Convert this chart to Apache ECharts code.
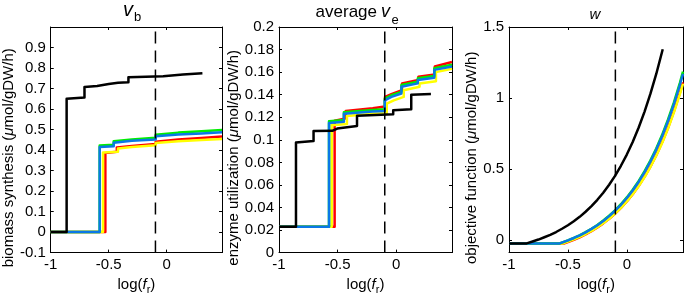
<!DOCTYPE html>
<html>
<head>
<meta charset="utf-8">
<script src="https://cdn.jsdelivr.net/npm/echarts@6/dist/echarts.min.js"></script>
<style>html,body{margin:0;padding:0;background:#fff;}#c{width:686px;height:300px;}</style>
</head>
<body>
<div id="c"></div>
<script>
// ---------- data ----------
const xTicks = [-1, -0.5, 0];
const xRange = [-1, 0.477];
const fRef = -0.097; // dashed reference line, log(f_r)

// panel 1 : v_b  (biomass synthesis)
const vbTicks = [-0.1, 0, 0.1, 0.2, 0.3, 0.4, 0.5, 0.6, 0.7, 0.8, 0.9];
const vbRange = [-0.1, 1.0];
const vbBlack  = [[-1,0],[-0.863,0],[-0.863,0.650],[-0.709,0.656],[-0.709,0.708],[-0.6,0.712],[-0.5,0.722],[-0.42,0.728],[-0.33,0.731],[-0.33,0.755],[-0.03,0.760],[-0.03,0.766],[0.14,0.768],[0.14,0.774],[0.308,0.774]];
const vbRed    = [[-1,0],[-0.529,0],[-0.529,0.386],[-0.43,0.392],[-0.43,0.412],[-0.3,0.420],[-0.095,0.430],[-0.095,0.441],[0.1,0.451],[0.3,0.459],[0.477,0.466]];
const vbYellow = [[-1,0],[-0.549,0],[-0.549,0.388],[-0.42,0.392],[-0.42,0.408],[-0.3,0.415],[-0.095,0.424],[-0.095,0.434],[0.1,0.443],[0.3,0.449],[0.477,0.454]];
const vbGreen  = [[-1,0],[-0.578,0],[-0.578,0.422],[-0.457,0.426],[-0.457,0.443],[-0.3,0.452],[-0.095,0.460],[-0.095,0.475],[0.1,0.485],[0.3,0.492],[0.477,0.498]];
const vbBlue   = [[-1,0],[-0.578,0],[-0.578,0.415],[-0.457,0.418],[-0.457,0.436],[-0.3,0.445],[-0.095,0.452],[-0.095,0.467],[0.1,0.476],[0.3,0.481],[0.477,0.487]];

// panel 2 : average v_e (enzyme utilization)
const veTicks = [0, 0.02, 0.04, 0.06, 0.08, 0.1, 0.12, 0.14, 0.16, 0.18, 0.2];
const veRange = [0, 0.2];
const veBlack  = [[-1,0.023],[-0.855,0.023],[-0.855,0.0977],[-0.705,0.099],[-0.705,0.1077],[-0.545,0.108],[-0.545,0.109],[-0.503,0.110],[-0.503,0.111],[-0.334,0.1123],[-0.334,0.1214],[-0.025,0.1226],[-0.025,0.1263],[0.129,0.127],[0.129,0.140],[0.297,0.1405]];
const veRed    = [[-1,0.023],[-0.525,0.023],[-0.525,0.117],[-0.43,0.119],[-0.43,0.1255],[-0.2,0.128],[-0.095,0.1295],[-0.095,0.138],[-0.03,0.141],[-0.03,0.142],[0.05,0.144],[0.05,0.150],[0.19,0.153],[0.19,0.156],[0.33,0.158],[0.33,0.165],[0.477,0.169]];
const veYellow = [[-1,0.023],[-0.55,0.023],[-0.55,0.113],[-0.42,0.114],[-0.42,0.121],[-0.2,0.123],[-0.08,0.1235],[-0.08,0.132],[-0.02,0.135],[-0.02,0.136],[0.065,0.138],[0.065,0.144],[0.2,0.147],[0.2,0.150],[0.34,0.152],[0.34,0.160],[0.477,0.163]];
const veGreen  = [[-1,0.023],[-0.573,0.023],[-0.573,0.1165],[-0.446,0.1175],[-0.446,0.1245],[-0.2,0.1265],[-0.097,0.127],[-0.097,0.1365],[-0.04,0.1395],[-0.04,0.1405],[0.045,0.1425],[0.045,0.1485],[0.185,0.1515],[0.185,0.1545],[0.326,0.1565],[0.326,0.1635],[0.477,0.1665]];
const veBlue   = [[-1,0.023],[-0.573,0.023],[-0.573,0.115],[-0.446,0.116],[-0.446,0.123],[-0.2,0.125],[-0.097,0.1255],[-0.097,0.135],[-0.04,0.138],[-0.04,0.139],[0.045,0.141],[0.045,0.147],[0.185,0.150],[0.185,0.153],[0.326,0.155],[0.326,0.162],[0.477,0.165]];

// panel 3 : w (objective function)
const wTicks = [0, 0.5, 1, 1.5];
const wRange = [-0.09, 1.5];
const wBlack  = [[-1,-0.025],[-0.85,-0.025],[-0.8,-0.012],[-0.75,0.002],[-0.7,0.018],[-0.65,0.035],[-0.6,0.055],[-0.55,0.078],[-0.5,0.103],[-0.45,0.131],[-0.4,0.162],[-0.35,0.198],[-0.3,0.238],[-0.25,0.282],[-0.2,0.332],[-0.15,0.388],[-0.1,0.451],[-0.05,0.522],[0,0.601],[0.05,0.690],[0.1,0.790],[0.15,0.902],[0.2,1.028],[0.25,1.169],[0.305,1.343]];
const wRed    = [[-1,-0.025],[-0.53,-0.025],[-0.5,-0.016],[-0.45,0.000],[-0.4,0.018],[-0.35,0.039],[-0.3,0.061],[-0.25,0.087],[-0.2,0.116],[-0.15,0.148],[-0.1,0.184],[-0.05,0.225],[0,0.271],[0.05,0.322],[0.1,0.379],[0.15,0.444],[0.2,0.516],[0.25,0.597],[0.3,0.688],[0.35,0.790],[0.4,0.905],[0.45,1.034],[0.477,1.110]];
const wYellow = [[-1,-0.025],[-0.54,-0.025],[-0.5,-0.013],[-0.45,0.003],[-0.4,0.021],[-0.35,0.041],[-0.3,0.063],[-0.25,0.089],[-0.2,0.117],[-0.15,0.149],[-0.1,0.185],[-0.05,0.225],[0,0.270],[0.05,0.321],[0.1,0.378],[0.15,0.441],[0.2,0.513],[0.25,0.593],[0.3,0.683],[0.35,0.784],[0.4,0.898],[0.45,1.025],[0.477,1.100]];
const wGreen  = [[-1,-0.025],[-0.57,-0.025],[-0.5,-0.004],[-0.45,0.013],[-0.4,0.032],[-0.35,0.054],[-0.3,0.078],[-0.25,0.105],[-0.2,0.136],[-0.15,0.170],[-0.1,0.208],[-0.05,0.251],[0,0.299],[0.05,0.353],[0.1,0.414],[0.15,0.482],[0.2,0.558],[0.25,0.644],[0.3,0.740],[0.35,0.848],[0.4,0.969],[0.45,1.105],[0.477,1.186]];
const wBlue   = [[-1,-0.025],[-0.57,-0.025],[-0.5,-0.004],[-0.45,0.013],[-0.4,0.032],[-0.35,0.053],[-0.3,0.077],[-0.25,0.103],[-0.2,0.133],[-0.15,0.167],[-0.1,0.205],[-0.05,0.247],[0,0.295],[0.05,0.348],[0.1,0.408],[0.15,0.475],[0.2,0.551],[0.25,0.636],[0.3,0.730],[0.35,0.837],[0.4,0.957],[0.45,1.091],[0.477,1.170]];

// ---------- styling ----------
const FONT = '"Liberation Sans", Arial, Helvetica, sans-serif';
const COLORS = {black:'#000000', red:'#ff0000', yellow:'#ffff00', green:'#00ee00', blue:'#0a78e6'};
const LW = 2.5;

const grids = [
  {left:50,  top:27, width:172, height:233},
  {left:279, top:27, width:173, height:233},
  {left:509, top:27, width:174, height:233}
];

function fmt(v){ return String(Math.round(v*1000)/1000); }

const yNames = [
  '{t|biomass synthesis (}{i|μ}{t|mol/gDW/h)}',
  '{t|enzyme utilization (}{i|μ}{t|mol/gDW/h)}',
  '{t|objective function (}{i|μ}{t|mol/gDW/h)}'
];
const yGaps = [32, 33, 23];
const yTickSets = [vbTicks, veTicks, wTicks];
const yRanges = [vbRange, veRange, wRange];

const nameRich = {
  t:{fontFamily:FONT, fontSize:15, color:'#000'},
  i:{fontFamily:FONT, fontSize:15, fontStyle:'italic', color:'#000'},
  s:{fontFamily:FONT, fontSize:11, color:'#000', padding:[9,0,0,0]}
};

const xAxes = [], yAxes = [];
grids.forEach((g, i) => {
  const line = {show:true, onZero:false, lineStyle:{color:'#000', width:1}};
  const tick = {show:true, inside:true, length:3, customValues:xTicks, lineStyle:{color:'#000', width:1}};
  xAxes.push({
    gridIndex:i, type:'value', min:xRange[0], max:xRange[1], position:'bottom',
    axisLine:line, axisTick:tick, splitLine:{show:false},
    axisLabel:{customValues:xTicks, formatter:fmt, color:'#000', fontFamily:FONT, fontSize:15, margin:5},
    name:'{t|log(}{i|f}{s|r}{t|)}', nameLocation:'middle', nameGap:20,
    nameTextStyle:{rich:nameRich}
  });
  xAxes.push({
    gridIndex:i, type:'value', min:xRange[0], max:xRange[1], position:'top',
    axisLine:line, axisTick:tick, splitLine:{show:false}, axisLabel:{show:false}
  });
  const ytick = {show:true, inside:true, length:3, customValues:yTickSets[i], lineStyle:{color:'#000', width:1}};
  yAxes.push({
    gridIndex:i, type:'value', min:yRanges[i][0], max:yRanges[i][1], position:'left',
    axisLine:line, axisTick:ytick, splitLine:{show:false},
    axisLabel:{customValues:yTickSets[i], formatter:fmt, color:'#000', fontFamily:FONT, fontSize:15, margin:5},
    name:yNames[i], nameLocation:'middle', nameRotate:90, nameGap:yGaps[i],
    nameTextStyle:{rich:nameRich, padding:[0,36,0,0]}
  });
  yAxes.push({
    gridIndex:i, type:'value', min:yRanges[i][0], max:yRanges[i][1], position:'right',
    axisLine:line, axisTick:ytick, splitLine:{show:false}, axisLabel:{show:false}
  });
});

const panels = [
  {red:vbRed, yellow:vbYellow, green:vbGreen, blue:vbBlue, black:vbBlack, range:vbRange},
  {red:veRed, yellow:veYellow, green:veGreen, blue:veBlue, black:veBlack, range:veRange},
  {red:wRed,  yellow:wYellow,  green:wGreen,  blue:wBlue,  black:wBlack,  range:wRange}
];

const series = [];
panels.forEach((p, i) => {
  ['red','yellow','green','blue','black'].forEach(k => {
    series.push({
      type:'line', xAxisIndex:2*i, yAxisIndex:2*i, data:p[k],
      showSymbol:false, symbol:'none', smooth:false,
      lineStyle:{color:COLORS[k], width:LW, join:'round'}, silent:true, animation:false, z:2
    });
  });
  series.push({
    type:'line', xAxisIndex:2*i, yAxisIndex:2*i,
    data:[[fRef, p.range[0]],[fRef, p.range[1]]],
    showSymbol:false, symbol:'none',
    lineStyle:{color:'#000', width:1.5, type:[12,7]}, silent:true, animation:false, z:3
  });
});

function txt(str, x, y, size, italic, align){
  return {type:'text', x:x, y:y, silent:true, style:{
    text:str, fill:'#000', align:align || 'left', verticalAlign:'middle',
    font:(italic ? 'italic ' : '') + size + 'px ' + FONT
  }};
}

const chart = echarts.init(document.getElementById('c'), null, {renderer:'canvas'});
chart.setOption({
  animation:false,
  backgroundColor:'#fff',
  grid:grids,
  xAxis:xAxes,
  yAxis:yAxes,
  series:series,
  graphic:[
    txt('v', 123, 10, 20, true),
    txt('b', 134, 17.5, 13, false),
    txt('average', 377, 12, 17, false, 'right'),
    txt('v', 381, 12, 18, true),
    txt('e', 391.5, 20, 13, false),
    txt('w', 595, 15, 15, true, 'center')
  ]
});
</script>
</body>
</html>
